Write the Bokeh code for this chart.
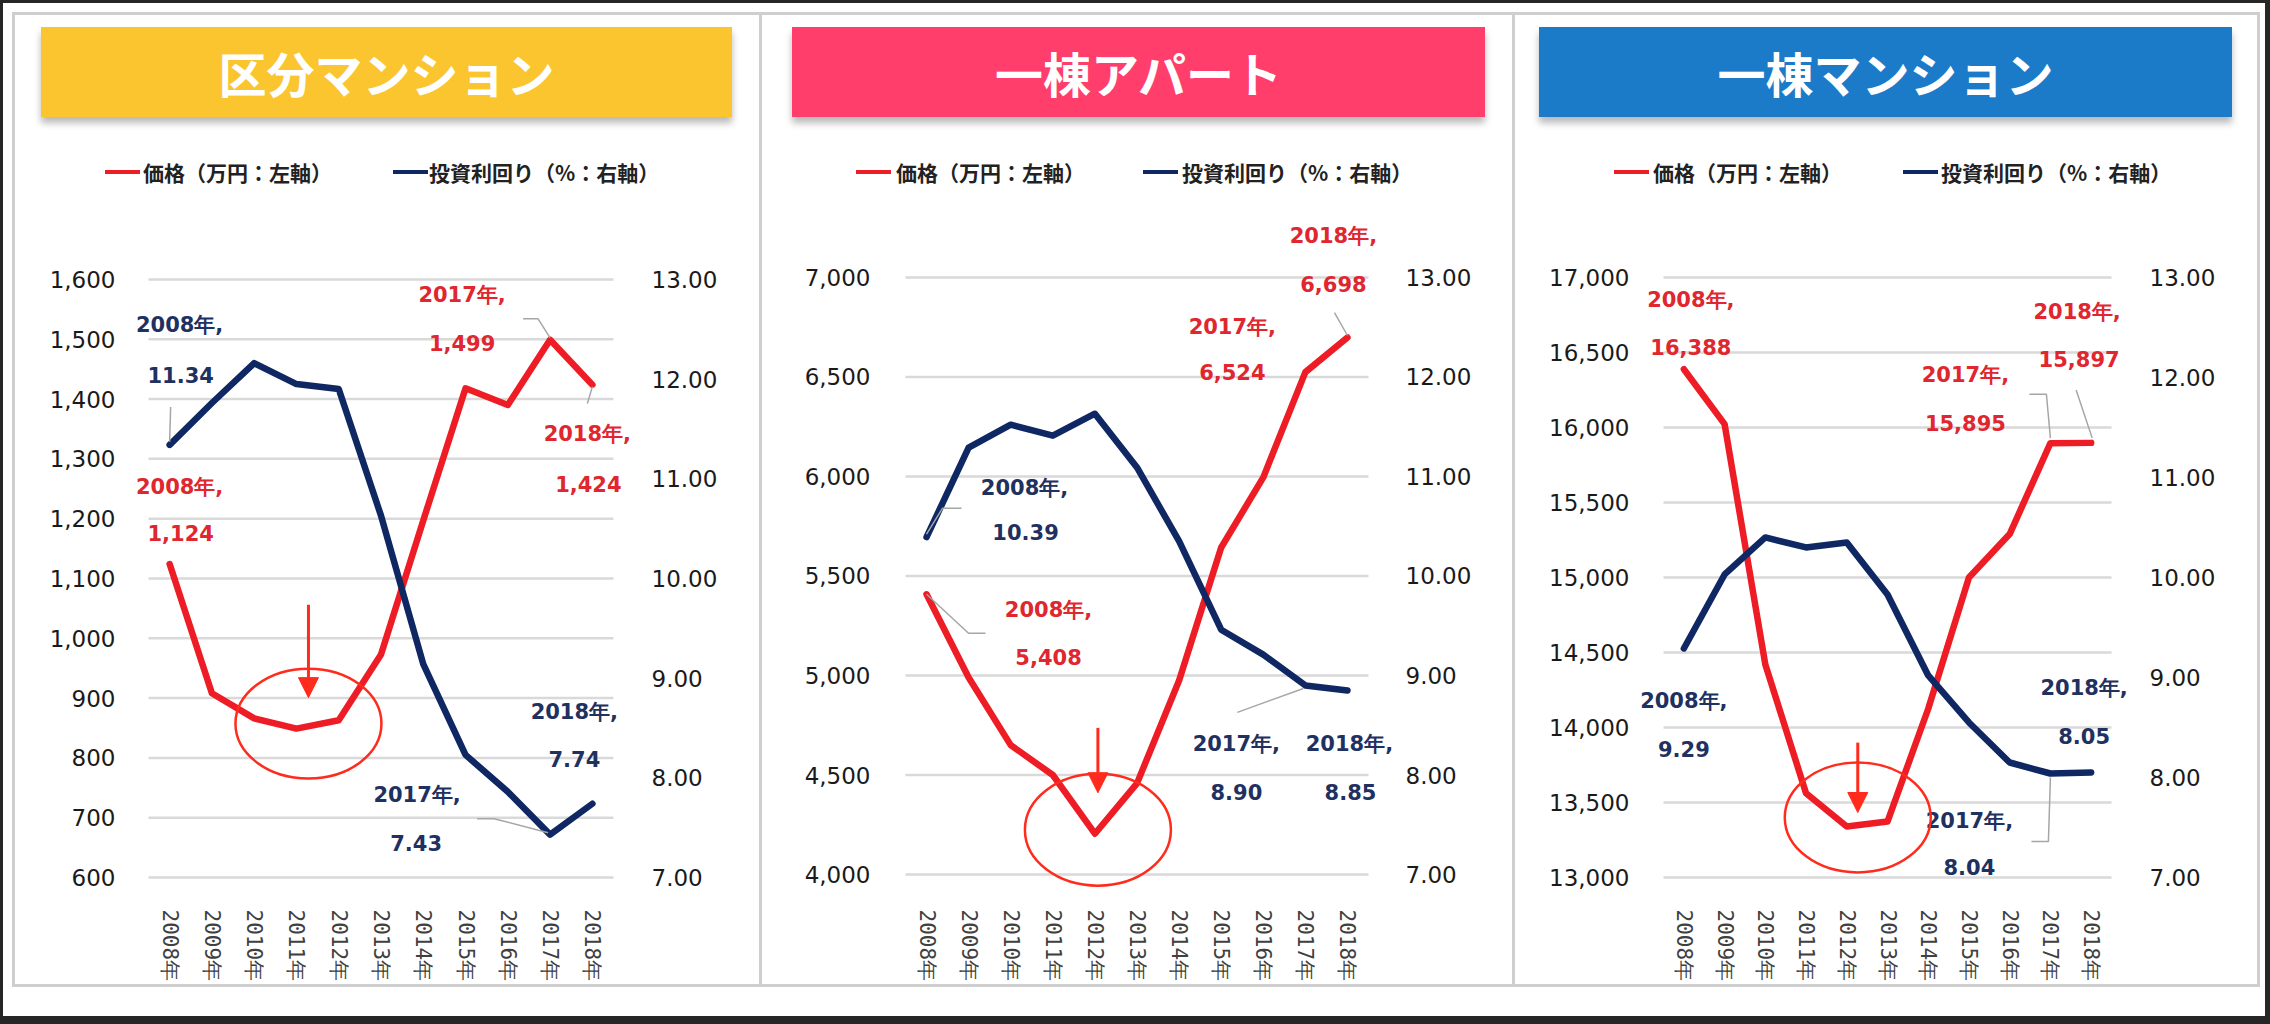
from bokeh.plotting import figure
from bokeh.models import (Range1d, LinearAxis, FixedTicker, NumeralTickFormatter, Div, Spacer,
                          Arrow, NormalHead)
from bokeh.layouts import row, column
from bokeh.embed import file_html
from bokeh.resources import INLINE
from bokeh.core.properties import value

# ---------------- data ----------------
years = ["2008年", "2009年", "2010年", "2011年", "2012年", "2013年",
         "2014年", "2015年", "2016年", "2017年", "2018年"]

kubun_price = [1124, 908, 866, 849, 863, 973, 1197, 1418, 1390, 1499, 1424]
kubun_yield = [11.34, 11.76, 12.16, 11.95, 11.90, 10.63, 9.14, 8.23, 7.86, 7.43, 7.74]

apart_price = [5408, 4990, 4650, 4500, 4205, 4458, 4975, 5643, 5995, 6524, 6698]
apart_yield = [10.39, 11.29, 11.52, 11.41, 11.63, 11.09, 10.35, 9.46, 9.21, 8.90, 8.85]

mansion_price = [16388, 16022, 14420, 13562, 13340, 13373, 14125, 15000, 15289, 15895, 15897]
mansion_yield = [9.29, 10.03, 10.40, 10.30, 10.35, 9.83, 9.02, 8.55, 8.15, 8.04, 8.05]

titles = ["区分マンション", "一棟アパート", "一棟マンション"]
price_label = "価格（万円：左軸）"
yield_label = "投資利回り（%：右軸）"
left_ticks_1 = [600, 700, 800, 900, 1000, 1100, 1200, 1300, 1400, 1500, 1600]
left_ticks_2 = [4000, 4500, 5000, 5500, 6000, 6500, 7000]
left_ticks_3 = [13000, 13500, 14000, 14500, 15000, 15500, 16000, 16500, 17000]
right_ticks = [7, 8, 9, 10, 11, 12, 13]

# ---------------- styling / layout ----------------
RED = "#EE1C25"
NAVY = "#0F2762"
RED_TXT = "#E0262E"
NAVY_TXT = "#1F3160"
GRID = "#D9D9D9"
BORDER = "#CFCFCF"
ARROW_RED = "#FF2B1C"
DARK = "#262626"

TOP = 15             # page y of panel content top
FRAME_TOP = 200      # page y of frame top
FRAME_BOTTOM = 892   # page y of frame bottom
BOTTOM = 984         # page y of panel content bottom
HEADER_H = FRAME_TOP - TOP
FIG_H = BOTTOM - FRAME_TOP

panels = [
    dict(title=titles[0], color="#FBC52F", price=kubun_price, yld=kubun_yield, lticks=left_ticks_1,
         colx=15, colw=744, frame=(126, 640), gx=(148, 613), grid=(279, 878), so=(5, 5),
         banner=(26, 691), leg=(90, 128, 378, 414),
         labels=[  # (series, index, year offset px, value offset px, leader offsets px)
             ("y", 0, (10, -120), (11, -70), [(1, -38), (0, -3)]),
             ("p", 0, (10, -77), (11, -31), None),
             ("p", 9, (-88, -45), (-88, 3), [(-27, -21), (-12, -21), (0, -2)]),
             ("p", 10, (-5, 49), (-4, 99), [(0, 2), (-5, 19)]),
             ("y", 10, (-18, -92), (-18, -45), None),
             ("y", 9, (-133, -40), (-134, 8), [(-73, -16), (-56, -16), (-2, -2)]),
         ],
         circ=((12, -5), 73, 55), arrow=((12, -124), (12, -31))),
    dict(title=titles[1], color="#FF3E6C", price=apart_price, yld=apart_yield, lticks=left_ticks_2,
         colx=762, colw=750, frame=(882, 1397), gx=(905, 1368), grid=(277, 875), so=(6, 2),
         banner=(30, 693), leg=(94, 134, 381, 420),
         labels=[
             ("y", 0, (98, -49), (99, -5), [(0, -3), (16, -29), (35, -29)]),
             ("p", 0, (122, 16), (122, 63), [(0, 0), (42, 39), (59, 39)]),
             ("p", 9, (-73, -45), (-73, 0), None),
             ("p", 10, (-14, -102), (-14, -54), [(-13, -25), (0, -2)]),
             ("y", 9, (-69, 59), (-69, 107), [(-68, 27), (-2, 3)]),
             ("y", 10, (2, 54), (3, 102), None),
         ],
         circ=((3, -4), 73, 56), arrow=((3, -106), (3, -41))),
    dict(title=titles[2], color="#1B7BC9", price=mansion_price, yld=mansion_yield, lticks=left_ticks_3,
         colx=1515, colw=742, frame=(1636, 2138), gx=(1663, 2111), grid=(277, 878), so=(1, 5),
         banner=(24, 693), leg=(99, 138, 388, 426),
         labels=[
             ("p", 0, (7, -69), (7, -22), None),
             ("p", 9, (-85, -68), (-85, -20), [(-21, -49), (-4, -49), (0, -5)]),
             ("p", 10, (-14, -131), (-12, -84), [(-15, -53), (1, -5)]),
             ("y", 0, (0, 53), (0, 101), None),
             ("y", 10, (-7, -85), (-7, -37), None),
             ("y", 9, (-81, 48), (-81, 94), [(-19, 68), (-2, 68), (0, 4)]),
         ],
         circ=((11, -9), 73, 55), arrow=((11, -84), (11, -14))),
]


def make_panel(cfg):
    colx, W = cfg["colx"], cfg["colw"]
    fx0, fx1 = cfg["frame"]
    gx0, gx1 = cfg["gx"]
    fl = fx0 - colx
    fw = fx1 - fx0
    fr = W - fl - fw
    n = len(years)
    sp = (gx1 - gx0) / n
    x_start = -0.5 - (gx0 - fx0) / sp
    x_end = (n - 0.5) + (fx1 - gx1) / sp

    yt, yb = cfg["grid"]
    lt = cfg["lticks"]
    vt, vb = lt[-1], lt[0]
    sL = (yb - yt) / (vt - vb)
    sR = (yb - yt) / (right_ticks[-1] - right_ticks[0])
    y_end = vt + (yt - FRAME_TOP) / sL
    y_start = vb - (FRAME_BOTTOM - yb) / sL
    r_end = right_ticks[-1] + (yt - FRAME_TOP) / sR
    r_start = right_ticks[0] - (FRAME_BOTTOM - yb) / sR

    p = figure(width=W, height=FIG_H, x_range=Range1d(x_start, x_end),
               y_range=Range1d(y_start, y_end), output_backend="svg",
               toolbar_location=None, min_border_left=fl, min_border_right=fr,
               min_border_top=0, min_border_bottom=BOTTOM - FRAME_BOTTOM, margin=0)
    p.extra_y_ranges = {"r": Range1d(r_start, r_end)}
    p.outline_line_color = None
    p.background_fill_color = "white"
    p.border_fill_color = "white"

    # axes
    xa = p.xaxis[0]
    xa.ticker = FixedTicker(ticks=list(range(n)))
    xa.major_label_overrides = {i: y for i, y in enumerate(years)}
    xa.major_label_orientation = "vertical"
    xa.major_label_text_font = "DejaVu Sans Mono"
    xa.major_label_text_font_size = "21px"
    xa.major_label_text_color = "#404040"
    xa.major_label_standoff = 12
    xa.axis_line_color = None
    xa.major_tick_line_color = None
    xa.minor_tick_line_color = None

    ya = p.yaxis[0]
    ya.ticker = FixedTicker(ticks=lt)
    ya.formatter = NumeralTickFormatter(format="0,0")
    ra = LinearAxis(y_range_name="r", ticker=FixedTicker(ticks=right_ticks),
                    formatter=NumeralTickFormatter(format="0.00"))
    p.add_layout(ra, "right")
    for ax, so in ((ya, cfg["so"][0]), (ra, cfg["so"][1])):
        ax.axis_line_color = None
        ax.major_tick_line_color = None
        ax.minor_tick_line_color = None
        ax.major_label_text_font = "DejaVu Sans"
        ax.major_label_text_font_size = "23px"
        ax.major_label_text_color = "#1A1A1A"
        ax.major_label_standoff = so

    # gridlines only across the plot area of the categories
    p.xgrid.grid_line_color = None
    p.ygrid.grid_line_color = None
    p.segment(x0=[-0.5] * len(lt), x1=[n - 0.5] * len(lt), y0=lt, y1=lt,
              line_color=GRID, line_width=2.5)

    xs = list(range(n))
    p.line(xs, cfg["price"], line_color=RED, line_width=6.5, line_join="round", line_cap="round")
    p.line(xs, cfg["yld"], line_color=NAVY, line_width=6.5, line_join="round", line_cap="round",
           y_range_name="r")

    # data labels
    for series, i, yoff, voff, leader in cfg["labels"]:
        if series == "p":
            v = cfg["price"][i]
            s = sL
            txt = f"{v:,}"
            col = RED_TXT
            rng = "default"
        else:
            v = cfg["yld"][i]
            s = sR
            txt = f"{v:.2f}"
            col = NAVY_TXT
            rng = "r"

        def pos(off):
            return i + off[0] / sp, v - off[1] / s
        (x1, y1), (x2, y2) = pos(yoff), pos(voff)
        p.text(x=[x1, x2], y=[y1, y2], text=[years[i] + ",", txt], text_color=col,
               text_font=value("DejaVu Sans"), text_font_size="21px", text_font_style="bold",
               text_align="center", text_baseline="middle", y_range_name=rng)
        if leader:
            pts = [pos(o) for o in leader]
            p.line([q[0] for q in pts], [q[1] for q in pts], line_color="#A6A6A6",
                   line_width=1.5, y_range_name=rng)

    # highlight circle and arrow at the price minimum
    prices = cfg["price"]
    imin = prices.index(min(prices))
    vmin = prices[imin]
    (cdx, cdy), rx, ry = cfg["circ"]
    p.ellipse(x=[imin + cdx / sp], y=[vmin - cdy / sL], width=2 * rx / sp, height=2 * ry / sL,
              fill_color=None, line_color=ARROW_RED, line_width=2.5)
    (ax0, ay0), (ax1, ay1) = cfg["arrow"]
    p.add_layout(Arrow(end=NormalHead(size=20, fill_color=ARROW_RED, line_color=ARROW_RED),
                       x_start=imin + ax0 / sp, y_start=vmin - ay0 / sL,
                       x_end=imin + ax1 / sp, y_end=vmin - ay1 / sL,
                       line_color=ARROW_RED, line_width=3))

    # header: banner + legend
    bl, bw = cfg["banner"]
    l1, t1, l2, t2 = cfg["leg"]
    ly = 172 - TOP
    font = "font-family:'Noto Sans CJK JP';font-weight:bold;"
    leg_txt = (f'position:absolute;top:{ly}px;transform:translateY(-50%);{font}font-size:21px;'
               f'color:#222222;white-space:nowrap;line-height:1;')
    header = Div(width=W, height=HEADER_H, margin=0, text=(
        f'<div style="position:relative;width:{W}px;height:{HEADER_H}px;">'
        f'<div style="position:absolute;left:{bl}px;top:12px;width:{bw}px;height:90px;'
        f'background:{cfg["color"]};box-shadow:0 6px 7px rgba(0,0,0,0.28);display:flex;'
        f'align-items:center;justify-content:center;color:#ffffff;{font}font-size:48px;line-height:1;">'
        f'{cfg["title"]}</div>'
        f'<div style="position:absolute;left:{l1}px;top:{ly - 2}px;width:35px;height:4px;background:{RED};"></div>'
        f'<div style="{leg_txt}left:{t1}px;">{price_label}</div>'
        f'<div style="position:absolute;left:{l2}px;top:{ly - 2}px;width:35px;height:4px;background:{NAVY};"></div>'
        f'<div style="{leg_txt}left:{t2}px;">{yield_label}</div>'
        f'</div>'))
    return column(header, p, width=W, height=HEADER_H + FIG_H, margin=0, spacing=0)


def block(w, h, color):
    return Div(width=w, height=h, text="", margin=0, styles={"background-color": color})


cols = [make_panel(c) for c in panels]
CH = HEADER_H + FIG_H
total_w = sum(c.width for c in cols) + 4 * 3   # 2248

content = column(block(total_w, 3, BORDER),
                 row(block(3, CH, BORDER), cols[0], block(3, CH, BORDER), cols[1],
                     block(3, CH, BORDER), cols[2], block(3, CH, BORDER), margin=0, spacing=0),
                 block(total_w, 3, BORDER), margin=0, spacing=0)

# white sheet with the panels, inside a thin dark frame (page is 2270 x 1024)
W_IN, H_IN = 2262, 1013
sheet = column(Spacer(width=W_IN, height=9, margin=0),
               row(Spacer(width=9, height=CH + 6, margin=0), content,
                   Spacer(width=W_IN - 9 - total_w, height=CH + 6, margin=0), margin=0, spacing=0),
               Spacer(width=W_IN, height=H_IN - 9 - (CH + 6), margin=0),
               margin=0, spacing=0, styles={"background-color": "white"})

root = column(block(2270, 3, DARK),
              row(block(3, H_IN, DARK), sheet, block(2270 - 3 - W_IN, H_IN, DARK),
                  margin=0, spacing=0),
              block(2270, 1024 - 3 - H_IN, DARK),
              margin=0, spacing=0)

open("out.html", "w").write(file_html(root, INLINE, title="chart"))
